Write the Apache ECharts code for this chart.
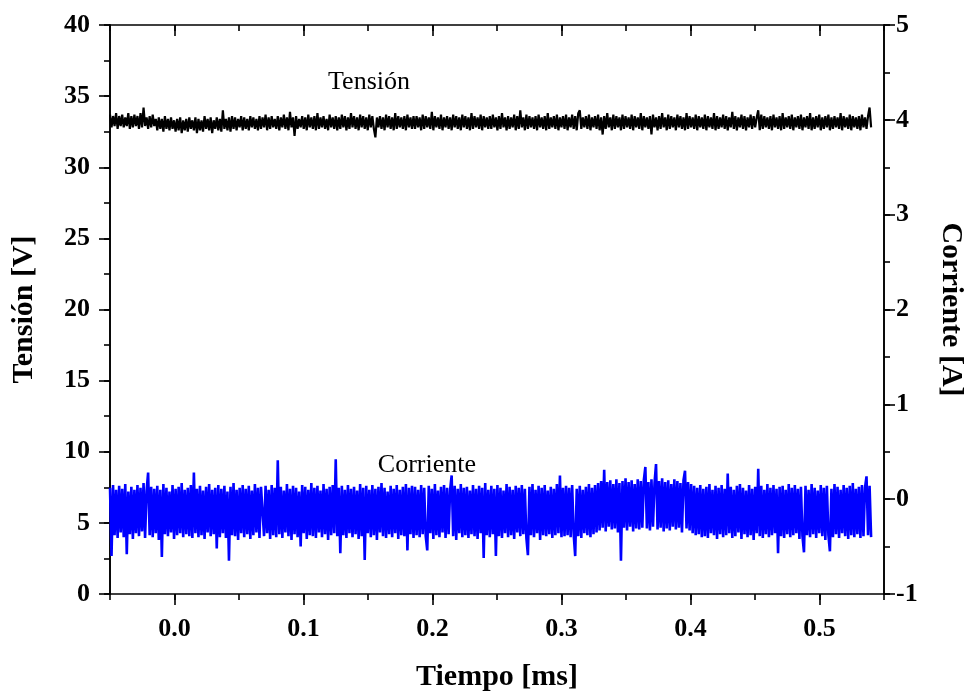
<!DOCTYPE html>
<html>
<head>
<meta charset="utf-8">
<script src="https://cdn.jsdelivr.net/npm/echarts@6/dist/echarts.min.js"></script>
<style>html,body{margin:0;padding:0;background:#fff;}#c{width:968px;height:695px;}</style>
</head>
<body>
<div id="c"></div>
<script>
// Time base of the recorded traces (ms)
const T_START = -0.05;
const T_END = 0.54;

// Tick values
const xMajorTicks = [0.0, 0.1, 0.2, 0.3, 0.4, 0.5];

// Tensión [V]
const tension = [
33.7,32.8,33.6,32.9,33.8,32.7,33.6,32.9,33.7,32.8,33.5,32.9,33.8,32.7,33.6,32.8,33.7,32.9,33.6,32.7,33.8,32.8,34.2,32.9,33.5,32.7,33.6,32.8,33.7,32.9,33.4,32.6,33.5,32.7,33.4,32.5,33.6,32.7,33.4,32.6,33.5,32.7,33.3,32.5,33.4,32.6,33.5,32.4,33.3,32.6,
33.4,32.5,33.5,32.7,33.3,32.6,33.5,32.4,33.4,32.6,33.3,32.5,33.6,32.7,33.4,32.6,33.5,32.4,33.3,32.7,33.5,32.6,33.4,32.5,34.0,32.7,33.4,32.6,33.5,32.5,33.6,32.7,33.5,32.6,33.4,32.8,33.6,32.6,33.5,32.7,33.4,32.6,33.6,32.8,33.5,32.7,33.4,32.6,33.6,32.7,
33.5,32.8,33.7,32.6,33.5,32.7,33.6,32.8,33.4,32.7,33.6,32.6,33.5,32.8,33.7,32.7,33.5,32.6,33.9,32.8,33.5,32.2,33.6,32.7,33.4,32.8,33.6,32.7,33.5,32.6,33.7,32.8,33.5,32.7,33.6,32.6,33.8,32.7,33.5,32.8,33.6,32.7,33.4,32.6,33.7,32.8,33.5,32.7,33.6,32.6,
33.5,32.7,33.7,32.8,33.6,32.6,33.5,32.7,33.8,32.8,33.6,32.7,33.5,32.6,33.7,32.8,33.6,32.7,33.5,32.6,33.7,32.8,33.6,32.7,32.1,33.5,32.8,33.6,32.7,33.5,32.6,33.7,32.8,33.6,32.7,33.5,32.6,33.8,32.7,33.6,32.8,33.5,32.7,33.6,32.6,33.7,32.8,33.5,32.7,33.6,
32.7,33.6,32.8,33.5,32.6,33.7,32.7,33.6,32.8,33.5,32.7,33.9,32.6,33.6,32.8,33.5,32.7,33.7,32.6,33.5,32.8,33.6,32.7,33.5,32.6,33.7,32.8,33.6,32.7,33.5,32.6,33.7,32.8,33.6,32.7,33.5,32.6,33.8,32.7,33.6,32.8,33.5,32.7,33.7,32.6,33.6,32.8,33.5,32.7,33.6,
32.7,33.7,32.8,33.5,32.6,33.6,32.7,33.8,32.8,33.5,32.6,33.6,32.7,33.5,32.8,33.7,32.6,33.6,32.7,34.0,32.8,33.5,32.6,33.7,32.7,33.6,32.8,33.5,32.7,33.6,32.6,33.7,32.8,33.5,32.7,33.6,32.6,33.8,32.7,33.5,32.8,33.6,32.7,33.7,32.6,33.5,32.8,33.6,32.7,33.7,
32.6,33.5,32.8,33.7,32.7,33.6,32.6,33.8,34.0,32.7,33.5,32.8,33.6,32.7,33.7,32.6,33.5,32.8,33.6,32.7,33.7,32.6,33.5,32.3,33.6,32.7,33.8,32.8,33.5,32.6,33.7,32.7,33.6,32.8,33.5,32.6,33.7,32.7,33.6,32.8,33.5,32.7,33.7,32.6,33.6,32.8,33.5,32.7,33.8,32.6,
33.6,32.8,33.5,32.7,33.6,32.3,33.7,32.8,33.5,32.6,33.6,32.7,33.8,32.8,33.5,32.6,33.7,32.7,33.6,32.8,33.5,32.6,33.7,32.8,33.6,32.7,33.5,32.6,33.8,32.7,33.6,32.8,33.5,32.7,33.7,32.6,33.6,32.8,33.5,32.7,33.7,32.6,33.6,32.8,33.5,32.7,33.8,32.6,33.6,32.7,
33.5,32.8,33.7,32.7,33.6,32.6,33.5,32.8,33.9,32.7,33.6,32.6,33.5,32.8,33.7,32.7,33.6,32.6,33.5,32.8,33.7,32.7,33.6,32.8,33.5,34.0,32.6,33.7,32.7,33.6,32.8,33.5,32.7,33.6,32.6,33.7,32.8,33.5,32.7,33.6,32.6,33.8,32.7,33.5,32.8,33.6,32.7,33.7,32.6,33.5,
32.8,33.6,32.7,33.7,32.6,33.5,32.8,33.6,32.7,33.8,32.6,33.5,32.7,33.6,32.8,33.7,32.6,33.5,32.7,33.6,32.8,33.7,32.6,33.5,32.7,33.6,32.8,33.5,32.7,33.8,32.6,33.6,32.8,33.5,32.7,33.7,32.6,33.6,32.8,33.5,32.7,33.6,32.6,33.7,32.8,33.5,32.7,33.6,34.2,32.8
];

// Corriente [A]
const corriente = [
0.12,-0.60,0.15,-0.38,0.10,-0.41,0.14,-0.35,0.11,-0.40,0.16,-0.58,0.08,-0.37,0.13,-0.42,0.10,-0.36,0.15,-0.39,0.12,-0.34,0.17,-0.41,0.09,0.28,-0.38,0.13,-0.40,0.11,-0.36,0.14,-0.43,0.10,-0.61,0.16,-0.37,0.12,-0.39,0.08,-0.35,0.15,-0.42,0.11,-0.38,0.13,-0.36,0.17,-0.40,0.10,
-0.37,0.12,-0.39,0.15,-0.41,0.28,-0.36,0.11,-0.40,0.14,-0.38,0.09,-0.42,0.13,-0.35,0.16,-0.39,0.10,-0.37,0.12,-0.52,0.15,-0.40,0.11,-0.36,0.14,-0.41,0.08,-0.65,0.13,-0.38,0.17,-0.39,0.10,-0.43,0.12,-0.36,0.15,-0.40,0.11,-0.37,0.14,-0.42,0.09,-0.38,0.16,-0.35,0.12,-0.41,0.13,
0.11,-0.39,0.14,-0.36,0.10,-0.42,0.15,-0.38,0.12,-0.40,0.41,-0.37,0.13,-0.41,0.09,-0.35,0.16,-0.39,0.11,-0.43,0.14,-0.37,0.12,-0.40,0.08,-0.50,0.15,-0.36,0.13,-0.42,0.10,-0.38,0.17,-0.39,0.12,-0.41,0.14,-0.35,0.09,-0.40,0.16,-0.37,0.11,-0.43,0.13,-0.38,0.15,-0.36,0.42,-0.39,
0.12,-0.57,0.14,-0.38,0.10,-0.41,0.15,-0.36,0.11,-0.40,0.13,-0.37,0.09,-0.42,0.16,-0.39,0.12,-0.64,0.14,-0.36,0.10,-0.40,0.15,-0.38,0.11,-0.43,0.13,-0.35,0.17,-0.39,0.12,-0.41,0.08,-0.37,0.14,-0.40,0.11,-0.36,0.15,-0.42,0.10,-0.38,0.13,-0.39,0.16,-0.54,0.12,-0.37,0.14,-0.41,
0.13,-0.38,0.10,-0.40,0.15,-0.37,0.12,-0.39,-0.54,0.14,-0.36,0.11,-0.42,0.16,-0.38,0.09,-0.40,0.13,-0.35,0.15,-0.41,0.12,-0.37,0.10,0.25,-0.39,0.14,-0.43,0.11,-0.36,0.16,-0.40,0.12,-0.38,0.13,-0.41,0.09,-0.37,0.15,-0.39,0.11,-0.42,0.14,-0.36,0.12,-0.62,0.17,-0.38,0.10,-0.40,
0.14,-0.37,0.11,-0.60,0.15,-0.39,0.12,-0.41,0.09,-0.36,0.16,-0.40,0.13,-0.38,0.10,-0.42,0.14,-0.35,0.12,-0.39,0.15,-0.37,0.11,-0.41,-0.59,0.13,-0.38,0.16,-0.40,0.10,-0.36,0.14,-0.43,0.12,-0.38,0.15,-0.39,0.09,-0.37,0.13,-0.41,0.11,-0.38,0.16,-0.36,0.25,-0.40,0.12,-0.39,0.14,
-0.38,0.12,-0.40,0.15,-0.37,-0.60,0.11,-0.39,0.14,-0.41,0.10,-0.36,0.13,-0.38,0.16,-0.40,0.12,-0.37,0.15,-0.35,0.17,-0.33,0.19,-0.30,0.31,-0.34,0.18,-0.29,0.20,-0.32,0.16,-0.31,0.21,-0.35,0.17,-0.65,0.19,-0.30,0.22,-0.33,0.18,-0.29,0.20,-0.34,0.16,-0.31,0.21,-0.32,0.19,-0.30,
0.20,0.34,-0.31,0.18,-0.33,0.21,-0.29,0.17,0.37,-0.32,0.19,-0.30,0.22,-0.34,0.18,-0.31,0.20,-0.33,0.16,-0.29,0.21,-0.32,0.19,-0.30,0.17,-0.35,0.20,0.30,-0.31,0.18,-0.33,0.16,-0.36,0.14,-0.38,0.12,-0.37,0.15,-0.40,0.11,-0.39,0.13,-0.41,0.16,-0.36,0.10,-0.38,0.14,-0.42,0.12,
-0.37,0.15,-0.40,0.11,-0.38,0.27,-0.36,0.13,-0.41,0.10,-0.39,0.14,-0.35,0.16,-0.42,0.12,-0.37,0.09,-0.40,0.15,-0.38,0.11,-0.43,0.13,-0.36,0.32,-0.39,0.14,-0.41,0.10,-0.37,0.16,-0.40,0.12,-0.38,0.15,-0.36,0.11,-0.57,0.13,-0.39,0.14,-0.41,0.10,-0.37,0.16,-0.40,0.12,-0.38,0.15,
-0.36,0.11,-0.42,0.13,-0.39,-0.56,0.14,-0.38,0.10,-0.40,0.16,-0.37,0.12,-0.41,0.09,-0.36,0.15,-0.39,0.12,-0.43,0.14,-0.38,-0.55,0.11,-0.40,0.16,-0.37,0.13,-0.41,0.10,-0.36,0.15,-0.39,0.12,-0.42,0.14,-0.38,0.17,-0.40,0.11,-0.37,0.13,-0.41,0.15,-0.39,0.12,0.24,-0.38,0.14,-0.40
];

const SERIF = '"Liberation Serif", "Times New Roman", serif';
const AXIS_COLOR = '#000';

function timeOf(i, n) { return T_START + (T_END - T_START) * i / (n - 1); }
const tensionData = tension.map((v, i) => [timeOf(i, tension.length), v]);
const corrienteData = corriente.map((v, i) => [timeOf(i, corriente.length), v]);

const chart = echarts.init(document.getElementById('c'), null, { renderer: 'canvas' });

const lineStyle = { color: AXIS_COLOR, width: 1.6 };
const tickLabel = { color: '#000', fontFamily: SERIF, fontWeight: 'bold', fontSize: 26 };
const nameStyle = { color: '#000', fontFamily: SERIF, fontWeight: 'bold', fontSize: 30 };

function xAx(pos, major, inside) {
  const a = {
    type: 'value', position: pos, min: -0.05, max: 0.55, interval: 0.05,
    axisLine: { show: !major, onZero: false, lineStyle },
    axisTick: { show: true, inside: inside, length: major ? 11 : 6, lineStyle },
    axisLabel: { show: false },
    splitLine: { show: false }
  };
  if (major) {
    a.axisTick.customValues = xMajorTicks;
    if (pos === 'bottom') {
      a.axisLabel = Object.assign({ show: true, margin: 22, customValues: xMajorTicks,
        formatter: v => v.toFixed(1) }, tickLabel);
      a.name = 'Tiempo [ms]';
      a.nameLocation = 'middle';
      a.nameGap = 68;
      a.nameTextStyle = nameStyle;
    }
  }
  return a;
}

function yAx(pos, min, max, interval, major, labelMargin, name, nameGap, rot) {
  const a = {
    type: 'value', position: pos, min, max, interval,
    axisLine: { show: true, onZero: false, lineStyle },
    axisTick: { show: true, inside: false, length: major ? 11 : 6, lineStyle },
    axisLabel: major ? Object.assign({ show: true, margin: labelMargin }, tickLabel) : { show: false },
    splitLine: { show: false }
  };
  if (name) {
    a.name = name; a.nameLocation = 'middle'; a.nameGap = nameGap;
    a.nameRotate = rot; a.nameTextStyle = nameStyle;
  }
  return a;
}

chart.setOption({
  animation: false,
  backgroundColor: '#fff',
  grid: { left: 110, right: 84, top: 25, bottom: 101, containLabel: false, outerBoundsMode: 'none' },
  xAxis: [
    xAx('bottom', false, false),
    xAx('bottom', true, false),
    xAx('top', false, true),
    xAx('top', true, true)
  ],
  yAxis: [
    yAx('left', 0, 40, 2.5, false),
    yAx('left', 0, 40, 5, true, 20, 'Tensión [V]', 71, 90),
    yAx('right', -1, 5, 0.5, false),
    yAx('right', -1, 5, 1, true, 12, 'Corriente [A]', 52, -90)
  ],
  series: [
    {
      name: 'Corriente', type: 'line', xAxisIndex: 0, yAxisIndex: 3,
      data: corrienteData, showSymbol: false, symbol: 'none', sampling: null,
      lineStyle: { color: '#0000ff', width: 2.6, join: 'bevel' }, z: 2
    },
    {
      name: 'Tensión', type: 'line', xAxisIndex: 0, yAxisIndex: 1,
      data: tensionData, showSymbol: false, symbol: 'none',
      lineStyle: { color: '#000', width: 2.2, join: 'bevel' }, z: 3
    }
  ]
});

// Annotations placed through the axes' own scales
const pTen = chart.convertToPixel({ xAxisIndex: 0, yAxisIndex: 1 }, [0.1508, 36.0]);
const pCor = chart.convertToPixel({ xAxisIndex: 0, yAxisIndex: 1 }, [0.1957, 9.07]);
chart.setOption({
  graphic: [
    { type: 'text', x: pTen[0], y: pTen[1], z: 10,
      style: { text: 'Tensión', font: '26px ' + SERIF, fill: '#000', align: 'center', verticalAlign: 'middle' } },
    { type: 'text', x: pCor[0], y: pCor[1], z: 10,
      style: { text: 'Corriente', font: '26px ' + SERIF, fill: '#000', align: 'center', verticalAlign: 'middle' } }
  ]
});
</script>
</body>
</html>
